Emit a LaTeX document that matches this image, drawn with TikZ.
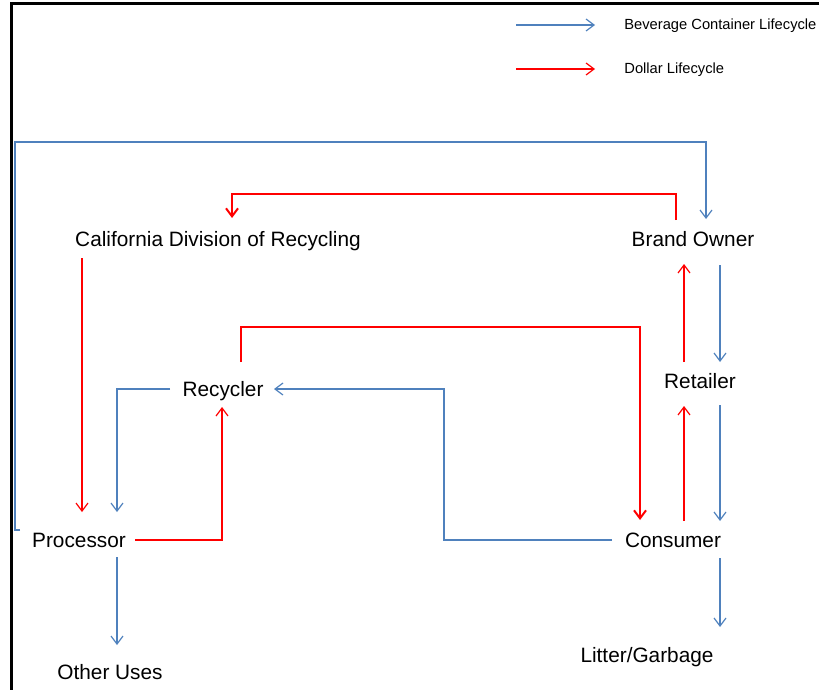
\documentclass[tikz,border=0pt]{standalone}
\usepackage{fontspec}
\setmainfont{Liberation Sans}
\definecolor{FlowBlue}{HTML}{4F81BD}
\definecolor{FlowRed}{HTML}{FF0000}
\usetikzlibrary{arrows.meta,calc}

\begin{document}
\begin{tikzpicture}[x=0.5pt, y=-0.5pt,
      stage/.style={font=\fontsize{10.4}{12}\selectfont,
                    text height=7.5pt, text depth=0pt, inner sep=1pt},
      legtxt/.style={font=\fontsize{7.35}{9}\selectfont,
                     text height=5.3pt, text depth=0pt, inner sep=0pt, anchor=west},
      canflow/.style={-{Straight Barb[length=4pt,width=6pt]},
                      FlowBlue, line width=0.6pt},
      cashflow/.style={-{Straight Barb[length=4pt,width=6pt]},
                       FlowRed, line width=0.6pt},
      heavy/.style={line width=1pt}]

      \useasboundingbox (0,0) rectangle (819,690);
      \draw[line width=1.5pt] (11.5,700) -- (11.5,4) -- (830,4);

      \node[legtxt] (keycan)  at (624,24) {Beverage Container Lifecycle};
      \node[legtxt] (keycash) at (624,68) {Dollar Lifecycle};
      \draw[canflow]  ([shift={(-108,1)}]keycan.west)  -- ([shift={(-29,1)}]keycan.west);
      \draw[cashflow] ([shift={(-108,1)}]keycash.west) -- ([shift={(-29,1)}]keycash.west);

      \node[stage] (calrec)   at (218,239) {California Division of Recycling};
      \node[stage] (brand)    at (693,239) {Brand Owner};
      \node[stage] (retail)   at (700,381) {Retailer};
      \node[stage] (recyc)    at (223,389) {Recycler};
      \node[stage] (proc)     at ( 79,540) {Processor};
      \node[stage] (consumer) at (673,540) {Consumer};
      \node[stage] (other)    at (110,672) {Other Uses};
      \node[stage] (litter)   at (647,655) {Litter/Garbage};
      \coordinate (outerbend) at (15,142);

      \draw[canflow] ([shift={(-59,-10)}]proc.center) -| (outerbend)
                     -| ([shift={(13,-20)}]brand.center);
      \draw[canflow] ([shift={(27,26)}]brand.center) -- ([shift={(20,-19)}]retail.center);
      \draw[canflow] ([shift={(20,24)}]retail.center) -- ([shift={(47,-19)}]consumer.center);
      \draw[canflow] ([shift={(-61,0)}]consumer.center) -- ++(-168,0)
                     |- ([shift={(51,0)}]recyc.center);
      \draw[canflow] ([shift={(-53,0)}]recyc.center) -| ([shift={(38,-28)}]proc.center);
      \draw[canflow] ([shift={(38,17)}]proc.center) -- ([shift={(7,-27)}]other.center);
      \draw[canflow] ([shift={(47,18)}]consumer.center) -- ([shift={(73,-28)}]litter.center);

      \draw[cashflow, heavy] ([shift={(-17,-19)}]brand.center) -- ++(0,-26)
                     -| ([shift={(14,-21)}]calrec.center);
      \draw[cashflow] ([shift={(-136,19)}]calrec.center) -- ([shift={(3,-28)}]proc.center);
      \draw[cashflow] ([shift={(56,0)}]proc.center) -| ([shift={(-1,18)}]recyc.center);
      \draw[cashflow, heavy] ([shift={(18,-27)}]recyc.center) -- ++(0,-35)
                     -| ([shift={(-33,-20)}]consumer.center);
      \draw[cashflow] ([shift={(11,-19)}]consumer.center) -- ([shift={(-16,25)}]retail.center);
      \draw[cashflow] ([shift={(-16,-19)}]retail.center) -- ([shift={(-9,25)}]brand.center);
\end{tikzpicture}
\end{document}
